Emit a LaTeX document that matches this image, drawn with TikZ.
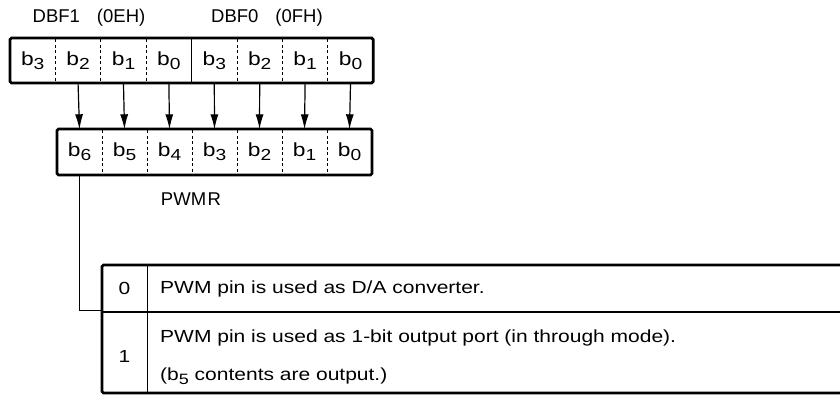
\documentclass[tikz,border=0pt]{standalone}
\usepackage{fontspec}
\setmainfont{Liberation Sans}
\newfontfamily\widefont[FakeStretch=1.2]{Liberation Sans}
\usetikzlibrary{arrows.meta}
\newcommand{\bsub}[2]{b\raisebox{-4pt}{\fontsize{#2}{#2}\selectfont #1}}
\begin{document}
\begin{tikzpicture}[x=1pt,y=-1pt,
  frame/.style={line width=2.8pt, rounded corners=1.5pt},
  dashdiv/.style={line width=0.8pt, dash pattern=on 3pt off 2.5pt},
  soliddiv/.style={line width=1pt},
  cell/.style={minimum width=45pt, minimum height=45pt, inner sep=0pt, font=\widefont\fontsize{19}{19}\selectfont},
  lbl/.style={font=\fontsize{18.5}{18.5}\selectfont, inner sep=0pt},
  txt/.style={font=\widefont\fontsize{17.5}{17.5}\selectfont, inner sep=0pt, anchor=west},
  arr/.style={-{Latex[length=15pt,width=8pt]}, line width=1.2pt},
  wire/.style={line width=1pt}]
\useasboundingbox (0,0) rectangle (840,400);
\clip (0,0) rectangle (840,400);
% labels
\node[lbl] (l1) at (89,18) {DBF1\hspace{17pt}(0EH)};
\node[lbl] (l0) at (267,18) {DBF0\hspace{17pt}(0FH)};
% top register
\foreach \i/\t in {0/3,1/2,2/1,3/0,4/3,5/2,6/1,7/0}
  \node[cell] (t\i) at ({10+45.4*\i+22.7},60.5) {\bsub{\t}{16}};
\foreach \i in {1,2,3,5,6,7}
  \draw[dashdiv] ({10+45.4*\i},39) -- ({10+45.4*\i},82);
\draw[soliddiv] (191.6,39) -- (191.6,82);
\draw[frame] (10,38) rectangle (373.2,83);
% PWMR register
\foreach \i/\t in {0/6,1/5,2/4,3/3,4/2,5/1,6/0}
  \node[cell] (p\i) at ({57+45*\i+22.5},152) {\bsub{\t}{16}};
\foreach \i in {1,...,6}
  \draw[dashdiv] ({57+45*\i},130) -- ({57+45*\i},174);
\draw[frame] (57,129) rectangle (372,175);
\node[lbl] (pwmr) at (191,199) {PWM\hspace{1.5pt}R};
% arrows
\foreach \a/\b in {1/0,2/1,3/2,4/3,5/4,6/5,7/6}
  \draw[arr] (t\a.south) ++(0,1) -- (p\b.north);
% table
\node[minimum width=45pt, minimum height=47pt, inner sep=0pt, font=\widefont\fontsize{17.5}{17.5}\selectfont] (v0) at (124.5,288.5) {0};
\node[minimum width=45pt, minimum height=81pt, inner sep=0pt, font=\widefont\fontsize{17.5}{17.5}\selectfont] (v1) at (124.5,356) {1};
\node[txt] (d0) at (160,289) {PWM pin is used as D/A converter.};
\node[txt] (d1a) at (160,338) {PWM pin is used as 1-bit output port (in through mode).};
\node[txt] (d1b) at (160,376) {(\bsub{5}{15} contents are output.)};
\draw[line width=1.8pt] (102,312) -- (850,312);
\draw[soliddiv] (147,265) -- (147,393);
\draw[frame] (850,265) -- (102,265) -- (102,393) -- (850,393);
% connector
\coordinate (c1) at (p0.south |- 0,310);
\draw[wire] (p0.south) -- (c1) -- (v0.south west |- c1);
\end{tikzpicture}
\end{document}
